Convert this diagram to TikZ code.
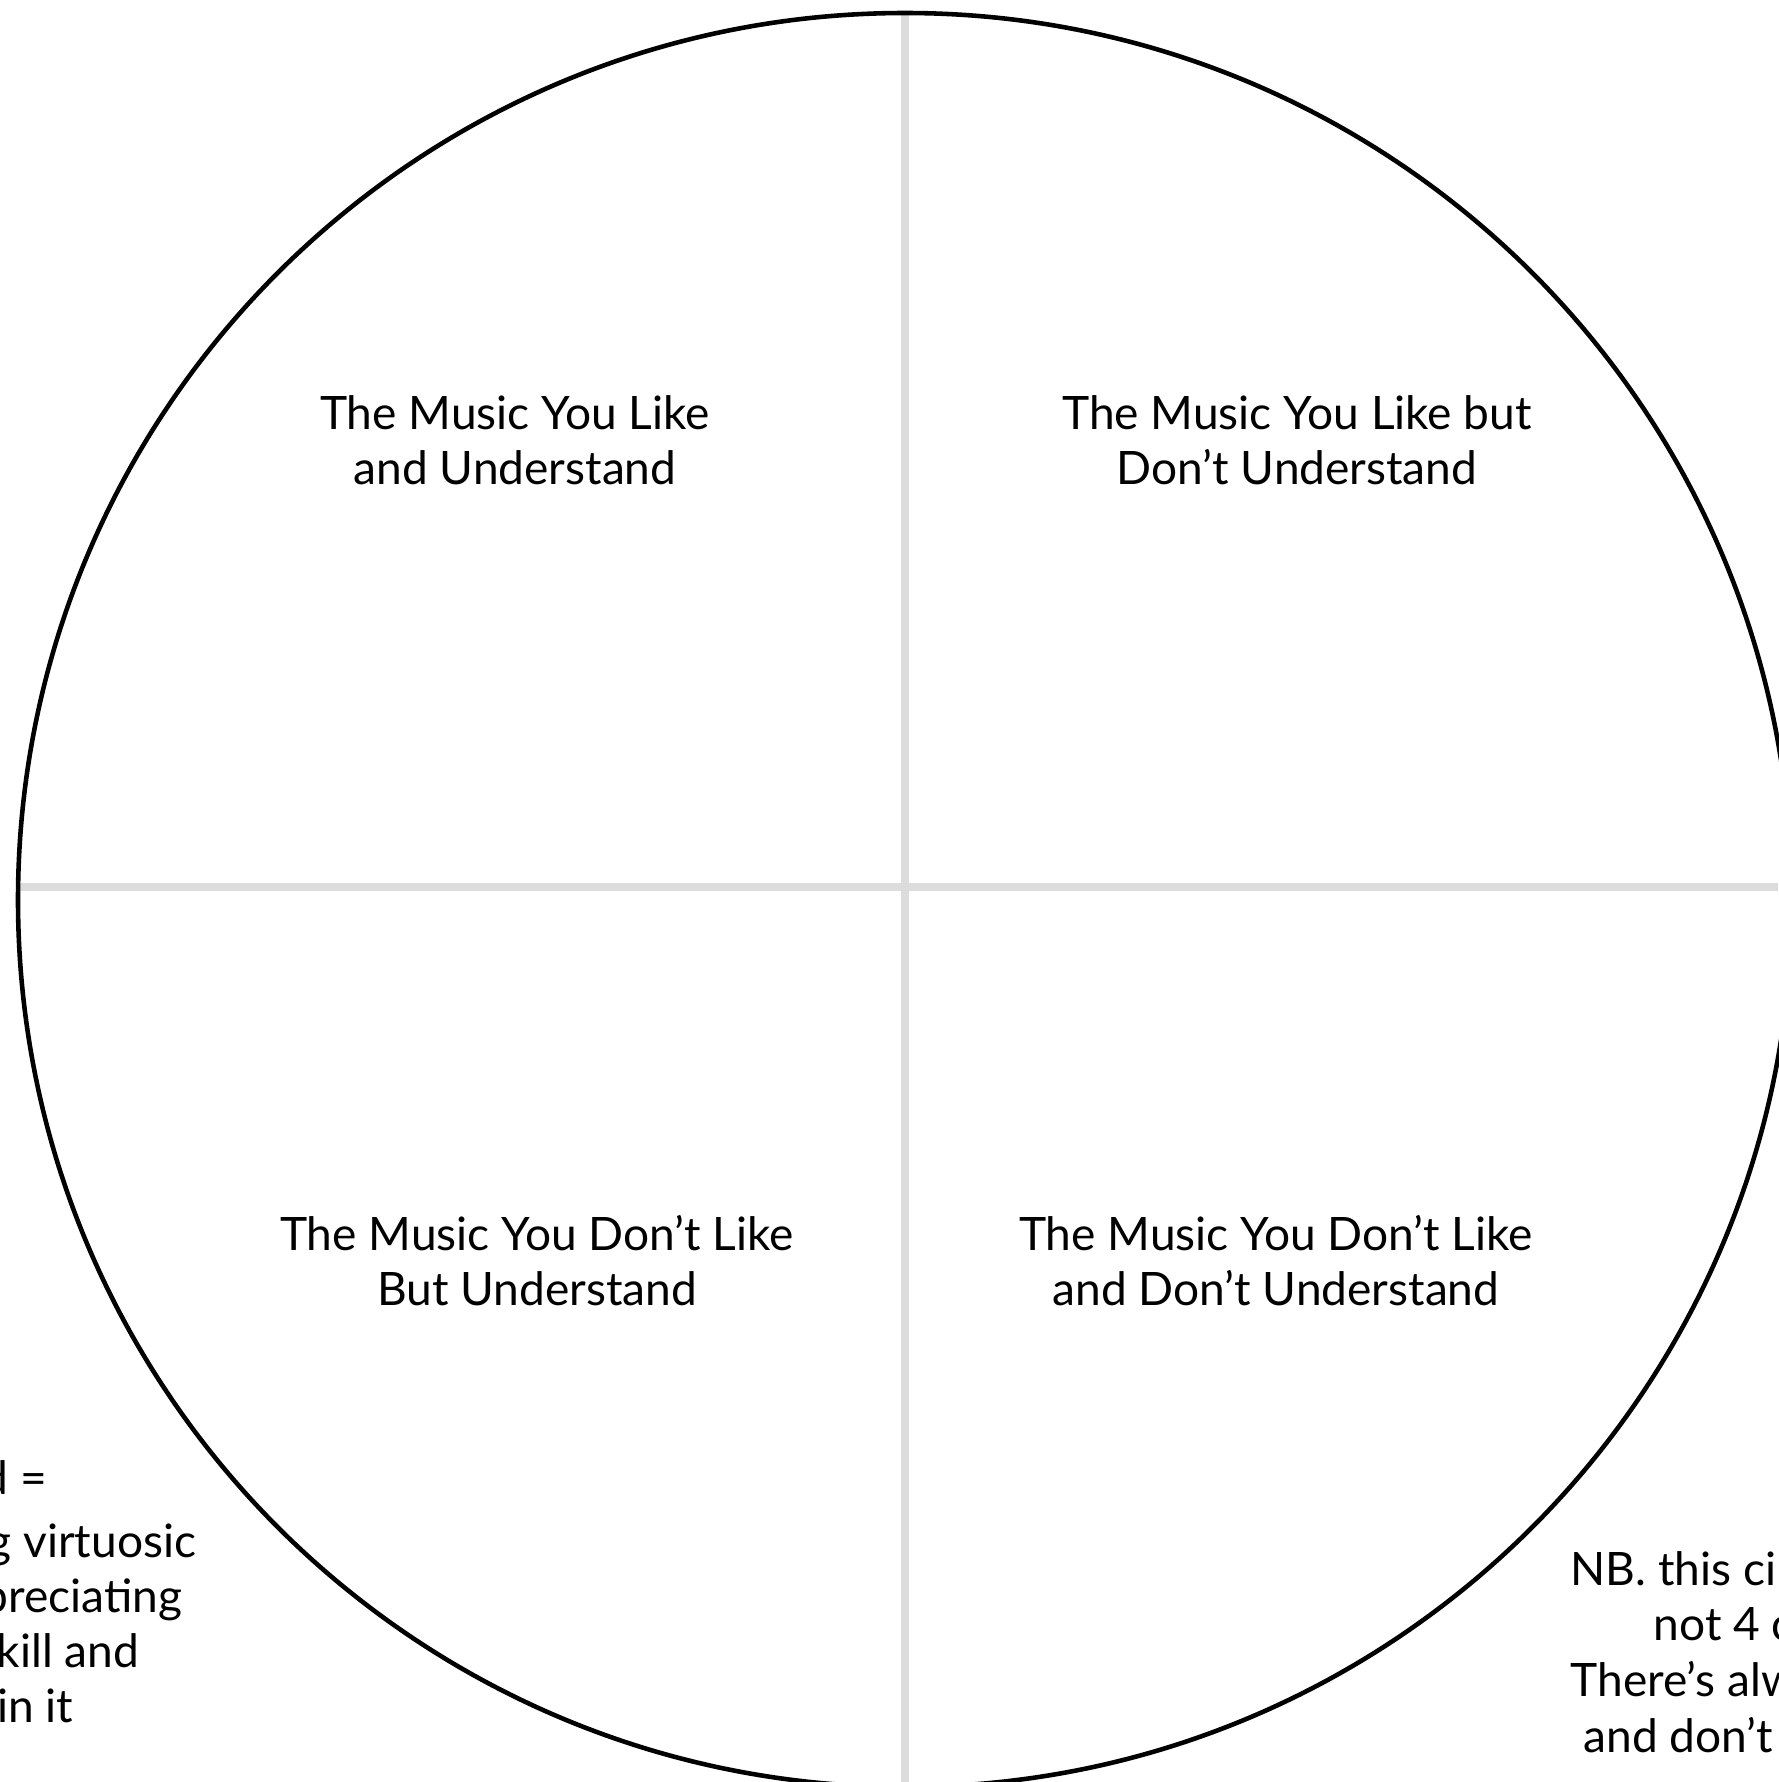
\documentclass[tikz,border=0pt]{standalone}
\usepackage{fontspec}
\setmainfont{Lato}
\definecolor{QuadGrey}{RGB}{220,220,220}

\begin{document}
\begin{tikzpicture}[
    x=0.01cm,y=-0.01cm,
    quad/.style={align=center,inner sep=0pt,font=\fontsize{13.1}{15.65}\selectfont},
    note/.style={inner sep=0pt,font=\fontsize{13.1}{15.65}\selectfont},
    divider/.style={QuadGrey,line width=2.1pt},
    rim/.style={black,line width=1.3pt}
  ]
    \useasboundingbox[fill=white] (0,0) rectangle (1778,1782);

    % the two axes, then the circle over them
    \draw[divider] (905,15) -- (905,1782);
    \draw[divider] (18,887) -- (1778,887);
    \draw[rim] (905,900) circle[radius=887];

    \node[quad] (likeund) at (515,440) {The Music You Like\\and Understand};
    \node[quad] (likenot) at (1297,440) {The Music You Like but\\Don’t Understand};
    \node[quad] (dislikeund) at (537,1261) {The Music You Don’t Like\\But Understand};
    \node[quad] (dislikenot) at (1276,1261) {The Music You Don’t Like\\and Don’t Understand};

    % cut-off notes at the page edges
    \node[note,anchor=base east] (la) at (48,1494) {d =};
    \node[note,anchor=base east] (lb) at (197,1557) {g virtuosic};
    \node[note,anchor=base east] (lc) at (183,1612) {preciating};
    \node[note,anchor=base east] (ld) at (140,1667) {skill and};
    \node[note,anchor=base east] (le) at (74,1722) {in it};

    \node[note,anchor=base west] (ra) at (1570,1585) {NB. this cir};
    \node[note,anchor=base west] (rb) at (1653,1640) {not 4 c};
    \node[note,anchor=base west] (rc) at (1570,1696) {There’s alw};
    \node[note,anchor=base west] (rd) at (1583,1752) {and don’t};
  \end{tikzpicture}
\end{document}
